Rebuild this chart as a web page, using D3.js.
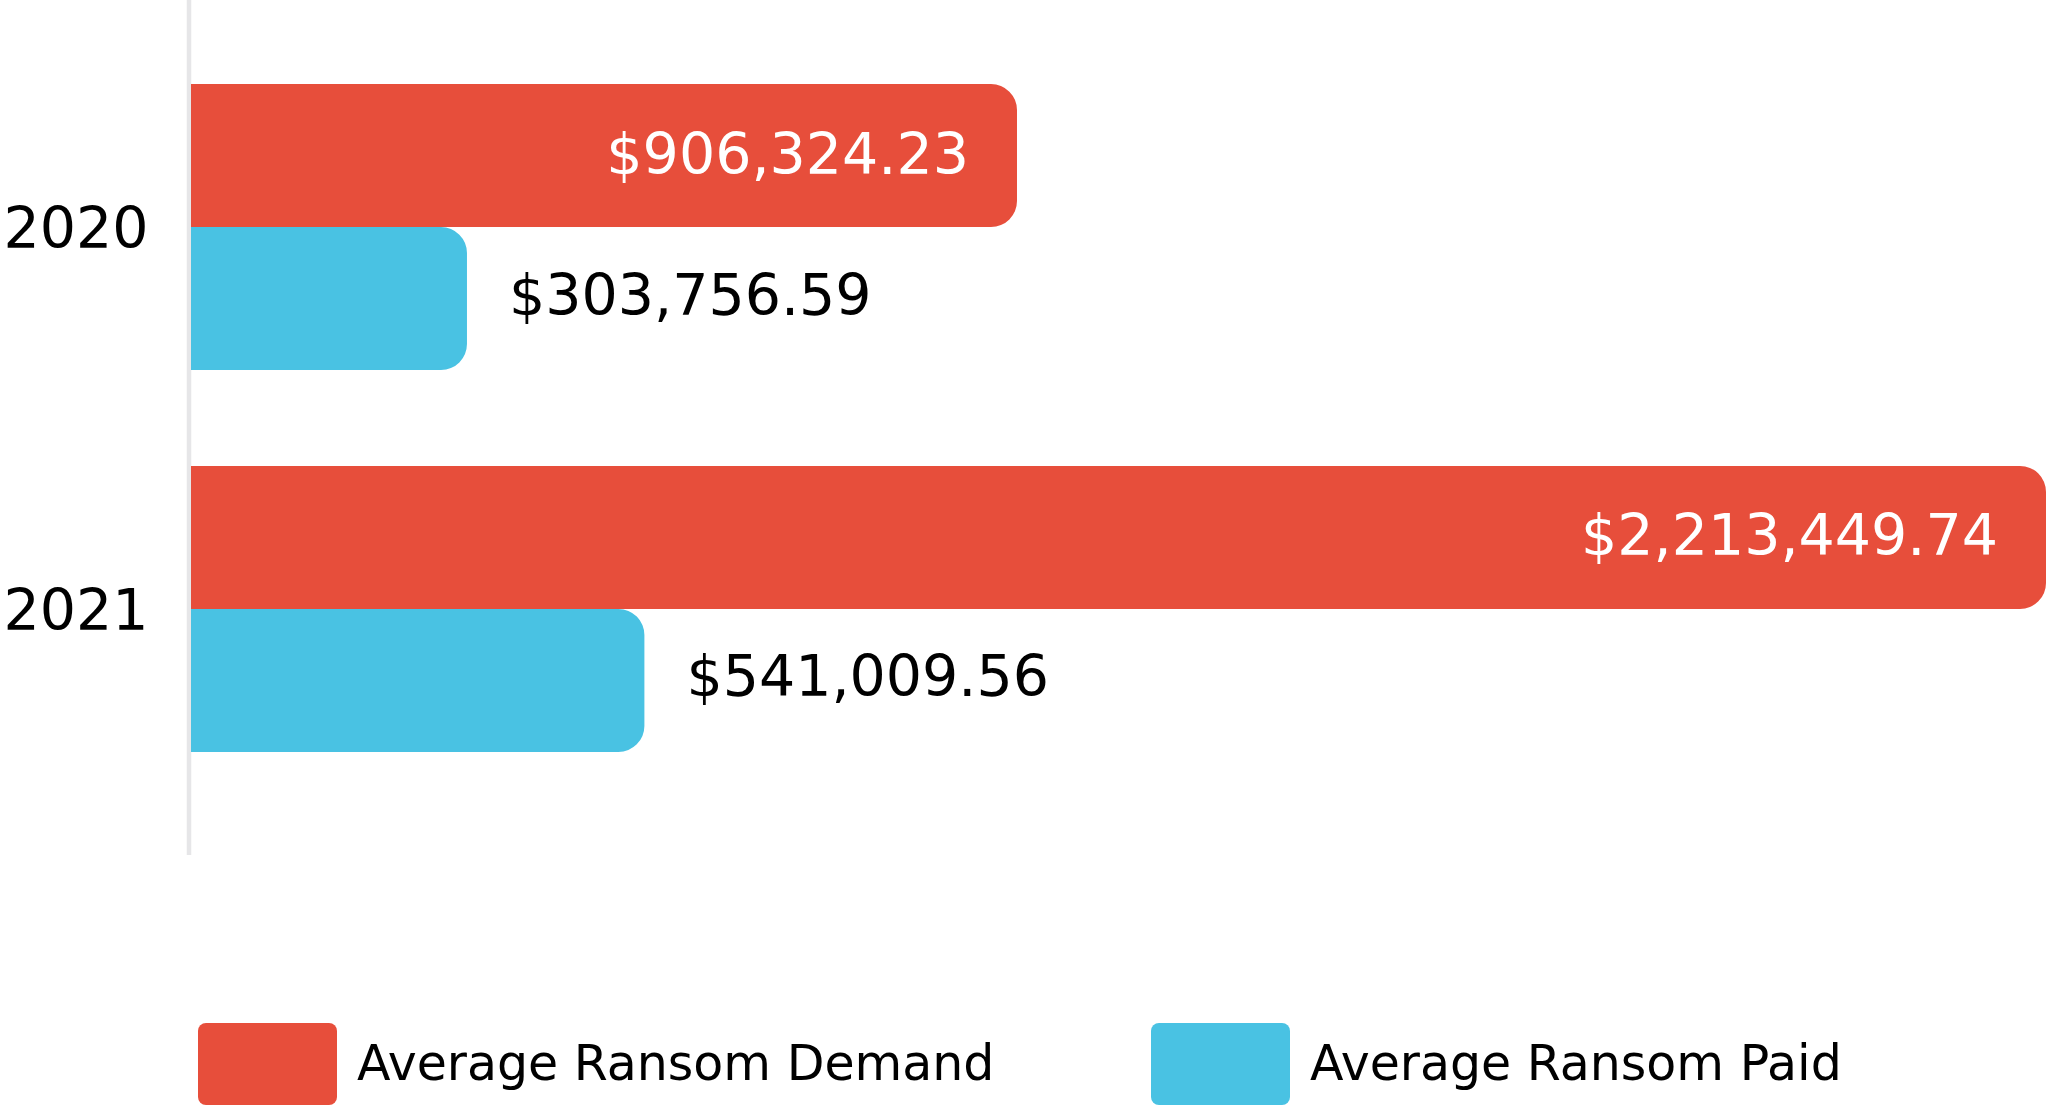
<!DOCTYPE html>
<html>
<head>
<meta charset="utf-8">
<script src="https://cdn.jsdelivr.net/npm/d3@7"></script>
<style>
  html, body { margin: 0; padding: 0; background: #ffffff; }
  svg { display: block; font-family: "DejaVu Sans", sans-serif; }
</style>
</head>
<body>
<div id="chart"></div>
<script>
// data
var years = ["2020", "2021"];
var series = ["Average Ransom Demand", "Average Ransom Paid"];
// bar lengths (the 2020 bars are drawn a bit longer than their printed figures)
var demand = [985600, 2213449.74];
var paid = [329300, 541009.56];
// printed figures
var demandLabels = ["$906,324.23", "$2,213,449.74"];
var paidLabels = ["$303,756.59", "$541,009.56"];
var colors = ["#e74e3b", "#49c2e3"];

var width = 2048, height = 1106;
var x0 = 191, radius = 26;

var svg = d3.select("#chart")
    .append("svg")
    .attr("width", width)
    .attr("height", height);

var xScale = d3.scaleLinear()
    .domain([0, d3.max(demand)])
    .range([x0, 2046]);

var yScale = d3.scaleBand()   // one band per year
    .domain(years)
    .range([0, 836])
    .paddingInner(0.251)
    .paddingOuter(0.22);

var subScale = d3.scaleBand()  // demand / paid inside a year
    .domain(series)
    .range([0, yScale.bandwidth()]);

// bar with square left end and rounded right end
function barPath(x, y, w, h, r) {
    r = Math.min(r, w, h / 2);
    return "M" + x + "," + y +
        "H" + (x + w - r) +
        "A" + r + "," + r + " 0 0 1 " + (x + w) + "," + (y + r) +
        "V" + (y + h - r) +
        "A" + r + "," + r + " 0 0 1 " + (x + w - r) + "," + (y + h) +
        "H" + x + "Z";
}

var rows = years.map(function(y, i) {
    return {year: y, demand: demand[i], paid: paid[i], dl: demandLabels[i], pl: paidLabels[i]};
});

// axis line
svg.append("line")
    .attr("x1", 189).attr("x2", 189)
    .attr("y1", 0).attr("y2", 855)
    .attr("stroke", "#e6e6e8")
    .attr("stroke-width", 4.5);

var group = svg.append("g")
    .selectAll("g")
    .data(rows)
    .enter()
    .append("g")
    .attr("transform", function(d) { return "translate(0," + yScale(d.year) + ")"; });

var bh = subScale.bandwidth();

// demand bars
group.append("path")
    .attr("fill", colors[0])
    .attr("d", function(d) {
        return barPath(x0, subScale(series[0]), xScale(d.demand) - x0, bh, radius);
    });

// paid bars
group.append("path")
    .attr("fill", colors[1])
    .attr("d", function(d) {
        return barPath(x0, subScale(series[1]), xScale(d.paid) - x0, bh, radius);
    });

// labels inside the demand bars
group.append("text")
    .attr("x", function(d) { return xScale(d.demand) - 48; })
    .attr("y", subScale(series[0]) + bh / 2 + 18)
    .attr("text-anchor", "end")
    .attr("fill", "#ffffff")
    .attr("font-size", 57)
    .text(function(d) { return d.dl; });

// labels after the paid bars
group.append("text")
    .attr("x", function(d) { return xScale(d.paid) + 42; })
    .attr("y", subScale(series[1]) + bh / 2 + 16)
    .attr("fill", "#000000")
    .attr("font-size", 57)
    .text(function(d) { return d.pl; });

// year labels
group.append("text")
    .attr("x", 76)
    .attr("y", yScale.bandwidth() / 2 + 21)
    .attr("text-anchor", "middle")
    .attr("fill", "#000000")
    .attr("font-size", 57)
    .text(function(d) { return d.year; });

// legend
var legendX = [198, 1151];
var legend = svg.append("g")
    .selectAll("g")
    .data(series)
    .enter()
    .append("g")
    .attr("transform", function(d, i) { return "translate(" + legendX[i] + ",1023)"; });

legend.append("rect")
    .attr("width", 139)
    .attr("height", 82)
    .attr("rx", 8)
    .attr("fill", function(d, i) { return colors[i]; });

legend.append("text")
    .attr("x", 159)
    .attr("y", 57)
    .attr("fill", "#000000")
    .attr("font-size", 49)
    .text(function(d) { return d; });
</script>
</body>
</html>
